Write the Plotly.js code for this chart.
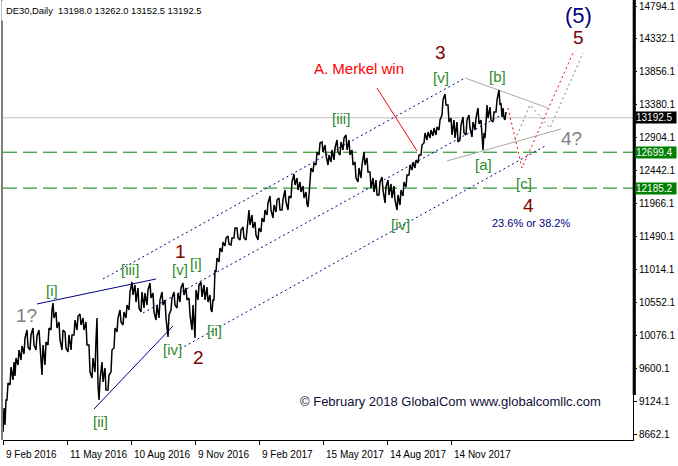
<!DOCTYPE html>
<html><head><meta charset="utf-8">
<script src="https://cdn.plot.ly/plotly-3.0.1.min.js"></script>
<style>html,body{margin:0;padding:0;background:#fff}#chart{width:678px;height:466px}</style>
</head><body><div id="chart"></div>
<script>
// ---- price data (sampled daily bars, bar index from 9 Feb 2016) ----
const barIdx = [0,2,4,7,10,12,15,18,21,24,27,30,33,36,39,42,45,48,50,53,56,59,62,65,68,71,74,77,80,83,86,89,92,94,96,99,102,105,108,111,114,117,120,123,126,129,132,135,138,141,144,147,150,153,156,159,162,165,168,171,174,177,180,183,186,189,192,195,198,201,204,207,209,211,213,216,219,222,225,228,231,234,237,240,243,246,249,252,255,258,261,264,267,270,273,276,279,282,285,288,291,294,297,300,303,305,307,310,313,316,319,322,325,328,331,334,337,340,343,346,349,352,355,358,361,364,367,370,373,376,379,382,385,388,391,394,397,400,403,406,409,412,415,418,421,424,427,430,433,436,439,442,445,448,451,454,457,460,463,466,469,472,475,478,480,482,484,487,490,493,496,498,500,502];
const barHigh = [9035,9149,9393,9622,9694,9751,9866,9923,10038,10152,10081,10181,10066,10152,9937,9980,10181,10439,10539,10410,10267,10152,10124,10081,10081,10295,10353,10381,10324,10267,9937,9751,10009,10324,9436,9694,9608,9507,9866,10181,10324,10439,10410,10510,10697,10840,10797,10754,10697,10682,10725,10826,10682,10510,10582,10697,10582,10367,10611,10697,10682,10754,10826,10754,10611,10510,10725,10797,10840,10797,10768,10654,10582,11012,11184,11327,11413,11470,11499,11470,11614,11614,11585,11628,11585,11871,11800,11700,11614,11757,11871,11972,12072,11943,12015,12043,12015,12158,12072,12273,12387,12330,12273,12215,12129,12086,12473,12545,12702,12831,12846,12803,12659,12731,12760,12874,12846,12903,12946,12874,12731,12559,12473,12516,12702,12616,12416,12330,12301,12273,12344,12201,12301,12244,12215,12086,12158,12273,12373,12516,12559,12588,12659,12803,12975,12989,13018,13046,13061,13161,13447,13533,13376,13189,13161,13132,13089,13204,13161,13232,13132,13189,13333,13161,12975,13118,13376,13347,13275,13447,13591,13404,13333,13275];
const barLow = [8691,8791,9149,9364,9436,9493,9651,9722,9808,9909,9866,9937,9866,9980,9507,9651,9937,10152,10324,10181,10009,9866,9894,9837,9866,10081,10152,10224,10152,9937,9550,9464,9550,9364,9149,9407,9293,9293,9550,9894,10124,10267,10224,10324,10439,10654,10553,10467,10410,10467,10510,10611,10410,10295,10324,10510,10324,10052,10439,10510,10467,10553,10654,10582,10367,10152,10038,10582,10625,10582,10553,10439,10410,10582,10983,11126,11270,11356,11384,11370,11470,11470,11442,11470,11442,11657,11614,11513,11442,11556,11700,11800,11871,11757,11843,11871,11871,11986,11871,12043,12230,12158,12129,12043,11957,11914,12273,12416,12516,12659,12702,12659,12516,12559,12588,12702,12659,12731,12731,12659,12516,12330,12273,12330,12516,12416,12187,12129,12086,12086,12158,11972,12086,12043,12015,11871,11943,12072,12201,12373,12444,12473,12545,12659,12831,12874,12903,12932,12946,13018,13232,13376,13132,12946,12903,12846,12874,12975,12946,13046,12917,13018,13104,12946,12731,12903,13189,13161,13132,13275,13376,13204,13189,13161];
const lastOHLC = [13198.0, 13262.0, 13152.5, 13192.5];

// ---- axis ticks ----
const dateTickBars = [0,64,128,192,256,320,384,448];
const dateTickText = ['9 Feb 2016','11 May 2016','10 Aug 2016','9 Nov 2016','9 Feb 2017','15 May 2017','14 Aug 2017','14 Nov 2017'];
const priceTicks = [14794.1,14332.1,13856.1,13380.1,12904.1,12442.1,11966.1,11490.1,11014.1,10552.1,10076.1,9600.1,9124.1,8662.1];
const levelLines = [12699.4, 12185.2];

// ---- wave labels ----
const waveText  = ['[i]','[ii]','[iii]','[iv]','[v]','[i]','[ii]','[iii]','[iv]','[v]','[a]','[b]','[c]'];
const waveBar   = [49,97,127,169,177,193,211,338,397,438,480,494,521];
const wavePrice = [10725,8848,11012,9866,11012,11098,10138,13189,11657,13763,12530,13791,12258];
const majorText  = ['1','2','3','4','5'];
const majorBar   = [177,195,437,525,575];
const majorPrice = [11270,9765,14135,11943,14350];
const altText  = ['1?','4?'];
const altBar   = [23,568];
const altPrice = [10367,12889];

// ---- drawn lines (bar index, price) ----
const solidBlueA_bars = [34,153],  solidBlueA_prices = [10525,10883];
const solidBlueB_bars = [91,170],  solidBlueB_prices = [9020,10210];
const chUpper_bars = [100,462],    chUpper_prices = [10883,13763];
const chMiddle_bars = [140,502],   chMiddle_prices = [10396,13261];
const chLower_bars = [177,544],    chLower_prices = [9880,12803];
const grayTop_bars = [462,545],    grayTop_prices = [13763,13333];
const grayBot_bars = [444,558],    grayBot_prices = [12574,13032];
const redPath_bars = [505,519,570], redPath_prices = [13333,12473,14121];
const grayPath_bars = [512,527,547,580], grayPath_prices = [12874,13376,13046,14121];
const merkel_bars = [374,414],     merkel_prices = [13619,12717];

// ---- build price zigzag ----
const px = [], py = [];
for (let i = 0; i < barIdx.length; i++) {
  const mid = (barHigh[i] + barLow[i]) / 2;
  const nmid = i < barIdx.length - 1 ? (barHigh[i+1] + barLow[i+1]) / 2 : mid;
  if (nmid >= mid) { px.push(barIdx[i], barIdx[i] + 1); py.push(barLow[i], barHigh[i]); }
  else { px.push(barIdx[i], barIdx[i] + 1); py.push(barHigh[i], barLow[i]); }
}
const traces = [];
function ln(x, y, color, dash, width) {
  traces.push({type:'scatter', mode:'lines', x:x, y:y, hoverinfo:'skip',
    line:{color:color, dash:dash || 'solid', width:width || 1}});
}
ln(solidBlueA_bars, solidBlueA_prices, '#00008b');
ln(solidBlueB_bars, solidBlueB_prices, '#00008b');
ln(chUpper_bars, chUpper_prices, '#00008b', '2px,3px');
ln(chMiddle_bars, chMiddle_prices, '#00008b', '2px,3px');
ln(chLower_bars, chLower_prices, '#00008b', '2px,3px');
ln(grayTop_bars, grayTop_prices, '#a9a9a9');
ln(grayBot_bars, grayBot_prices, '#a9a9a9');
ln(grayPath_bars, grayPath_prices, '#808080', '2px,3px');
ln(redPath_bars, redPath_prices, '#ff0000', '2px,3px');
ln(merkel_bars, merkel_prices, '#ff0000');
traces.push({type:'scatter', mode:'lines', x:px, y:py, hoverinfo:'skip', line:{color:'#000', width:1.5}});

const F = 'Liberation Sans, Arial, sans-serif';
const ann = [];
waveText.forEach((t,i)=>ann.push({x:waveBar[i], y:wavePrice[i], text:t, showarrow:false, xref:'x', yref:'y',
  font:{family:F, size:15, color:'#2e8b2e'}}));
majorText.forEach((t,i)=>ann.push({x:majorBar[i], y:majorPrice[i], text:t, showarrow:false,
  font:{family:F, size:19, color:'#800000'}}));
altText.forEach((t,i)=>ann.push({x:altBar[i], y:altPrice[i], text:t, showarrow:false,
  font:{family:F, size:19, color:'#808080'}}));
ann.push({x:575, y:14651, text:'(5)', showarrow:false, font:{family:F, size:22, color:'#000080'}});
ann.push({x:356, y:13892, text:'A. Merkel win', showarrow:false, font:{family:F, size:15, color:'#ff0000'}});
ann.push({x:528, y:11685, text:'23.6% or 38.2%', showarrow:false, font:{family:F, size:11, color:'#000080'}});
ann.push({x:447, y:9121, text:'© February 2018 GlobalCom www.globalcomllc.com', showarrow:false, font:{family:F, size:13, color:'#10103a'}});
// header
ann.push({xref:'paper', yref:'paper', x:-0.003, y:1, xanchor:'left', yanchor:'top', showarrow:false,
  text:'DE30,Daily  ' + lastOHLC.map(v=>v.toFixed(1)).join(' '), bgcolor:'#fff', borderpad:4,
  font:{family:F, size:9.4, color:'#000'}});
// date labels
dateTickBars.forEach((b,i)=>ann.push({xref:'x', yref:'paper', x:b+1, y:-0.034, xanchor:'left', yanchor:'middle',
  showarrow:false, text:dateTickText[i], font:{family:F, size:10, color:'#000'}}));
// price flags
const flags = [[lastOHLC[3], '#000'], [levelLines[0], '#008000'], [levelLines[1], '#008000']];
flags.forEach(f=>ann.push({xref:'paper', yref:'y', x:1.0035, y:f[0], xanchor:'left', yanchor:'middle', showarrow:false,
  text:f[0].toFixed(1), bgcolor:f[1], width:40, height:11, align:'left', borderpad:0,
  font:{family:F, size:10, color:'#fff'}}));

const shapes = [
  {type:'line', xref:'paper', yref:'y', x0:0, x1:1, y0:lastOHLC[3], y1:lastOHLC[3], line:{color:'#c0c0c0', width:1}, layer:'below'},
  {type:'line', xref:'paper', yref:'y', x0:0, x1:1, y0:levelLines[0], y1:levelLines[0], line:{color:'#008000', width:1, dash:'14px,6px'}, layer:'below'},
  {type:'line', xref:'paper', yref:'y', x0:0, x1:1, y0:levelLines[1], y1:levelLines[1], line:{color:'#008000', width:1, dash:'14px,6px'}, layer:'below'},
  {type:'line', xref:'paper', yref:'paper', x0:-0.0016, x1:-0.0016, y0:0, y1:1, line:{color:'#000', width:1}},
  {type:'rect', xref:'paper', yref:'paper', x0:0.9995, x1:1.0045, y0:0.102, y1:1.01, fillcolor:'#000', line:{width:0}}
];

const layout = {
  width:678, height:466, margin:{l:3, r:45, t:0, b:26},
  paper_bgcolor:'#fff', plot_bgcolor:'#fff', showlegend:false, hovermode:false,
  xaxis:{range:[0,630], showgrid:false, zeroline:false, tickmode:'array', tickvals:dateTickBars,
    showticklabels:false, ticks:'outside', ticklen:4, tickcolor:'#000', showline:true, linecolor:'#000', linewidth:1, fixedrange:true},
  yaxis:{range:[8576.2,14880.1], side:'right', tickmode:'array', tickvals:priceTicks, ticktext:priceTicks.map(v=>v.toFixed(1)),
    ticks:'outside', ticklen:3, tickcolor:'#000', showgrid:false, zeroline:false, showline:true, linecolor:'#000',
    tickfont:{family:F, size:10, color:'#000'}, fixedrange:true},
  annotations:ann, shapes:shapes
};
Plotly.newPlot('chart', traces, layout, {staticPlot:true, displayModeBar:false});
</script></body></html>
